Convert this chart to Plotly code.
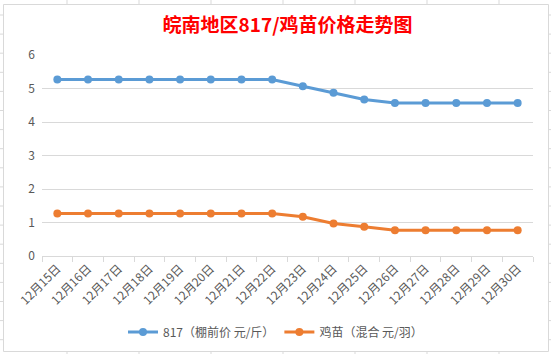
import plotly.graph_objects as go

dates = ["12月15日", "12月16日", "12月17日", "12月18日", "12月19日", "12月20日",
         "12月21日", "12月22日", "12月23日", "12月24日", "12月25日", "12月26日",
         "12月27日", "12月28日", "12月29日", "12月30日"]
price_817 = [5.27, 5.27, 5.27, 5.27, 5.27, 5.27, 5.27, 5.27,
             5.07, 4.87, 4.67, 4.57, 4.57, 4.57, 4.57, 4.57]
price_chick = [1.27, 1.27, 1.27, 1.27, 1.27, 1.27, 1.27, 1.27,
               1.17, 0.97, 0.87, 0.77, 0.77, 0.77, 0.77, 0.77]
name_817 = "817（棚前价 元/斤）"
name_chick = "鸡苗（混合 元/羽）"
title = "皖南地区817/鸡苗价格走势图"

W, H = 551, 354
L, R, T, B = 42, 18, 55, 98
PW, PH = W - L - R, H - T - B
FONT = "Noto Sans CJK SC"
GRID = "#d9d9d9"
TXT = "#595959"


def px(x):
    return (x - L) / PW


def py(y):
    return (H - B - y) / PH


fig = go.Figure()
fig.add_trace(go.Scatter(x=dates, y=price_817, name=name_817, mode="lines+markers",
                         line=dict(color="#5b9bd5", width=3),
                         marker=dict(color="#5b9bd5", size=8)))
fig.add_trace(go.Scatter(x=dates, y=price_chick, name=name_chick, mode="lines+markers",
                         line=dict(color="#ed7d31", width=3),
                         marker=dict(color="#ed7d31", size=8)))

shapes = []
# chart border
shapes.append(dict(type="rect", xref="paper", yref="paper",
                   x0=px(3.5), x1=px(548.5), y0=py(351.5), y1=py(4.5),
                   line=dict(color=GRID, width=1), layer="below"))
# spreadsheet cell lines outside the chart
for xv in [67, 139, 211, 283, 355, 427, 499]:
    shapes.append(dict(type="line", xref="paper", yref="paper",
                       x0=px(xv), x1=px(xv), y0=py(0), y1=py(4),
                       line=dict(color=GRID, width=1)))
    shapes.append(dict(type="line", xref="paper", yref="paper",
                       x0=px(xv), x1=px(xv), y0=py(352), y1=py(354),
                       line=dict(color=GRID, width=1)))
yv = 15.0
while yv < 352:
    for xa, xb in [(0, 3), (549, 551)]:
        shapes.append(dict(type="line", xref="paper", yref="paper",
                           x0=px(xa), x1=px(xb), y0=py(yv), y1=py(yv),
                           line=dict(color=GRID, width=1)))
    yv += 19.1

fig.update_layout(
    width=W, height=H,
    margin=dict(l=L, r=R, t=T, b=B, autoexpand=False),
    paper_bgcolor="white", plot_bgcolor="white",
    font=dict(family=FONT, color=TXT, size=12),
    title=dict(text="<b>" + title + "</b>", x=0.5, xref="paper", xanchor="center",
               y=1 - 25 / H, yanchor="middle",
               font=dict(family=FONT, size=19, color="#ff0000")),
    showlegend=True,
    legend=dict(orientation="h", x=0.5, xanchor="center", xref="container",
                y=1 - 332 / H, yref="container", yanchor="middle",
                font=dict(size=12, color=TXT), itemwidth=30,
                bgcolor="rgba(0,0,0,0)"),
    shapes=shapes,
)
fig.update_xaxes(type="category", tickangle=-45, tickson="boundaries",
                 ticks="outside", ticklen=5, tickcolor=GRID, automargin=False,
                 showline=True, linecolor=GRID, linewidth=1, showgrid=False,
                 tickfont=dict(size=12, color=TXT), range=[-0.5, 15.5])
fig.update_yaxes(range=[0, 6], dtick=1, showgrid=True, gridcolor=GRID, gridwidth=1,
                 zeroline=False, showline=False, ticks="", automargin=False,
                 ticklabelstandoff=6, tickfont=dict(size=12, color=TXT))

fig.write_html("out.html")
